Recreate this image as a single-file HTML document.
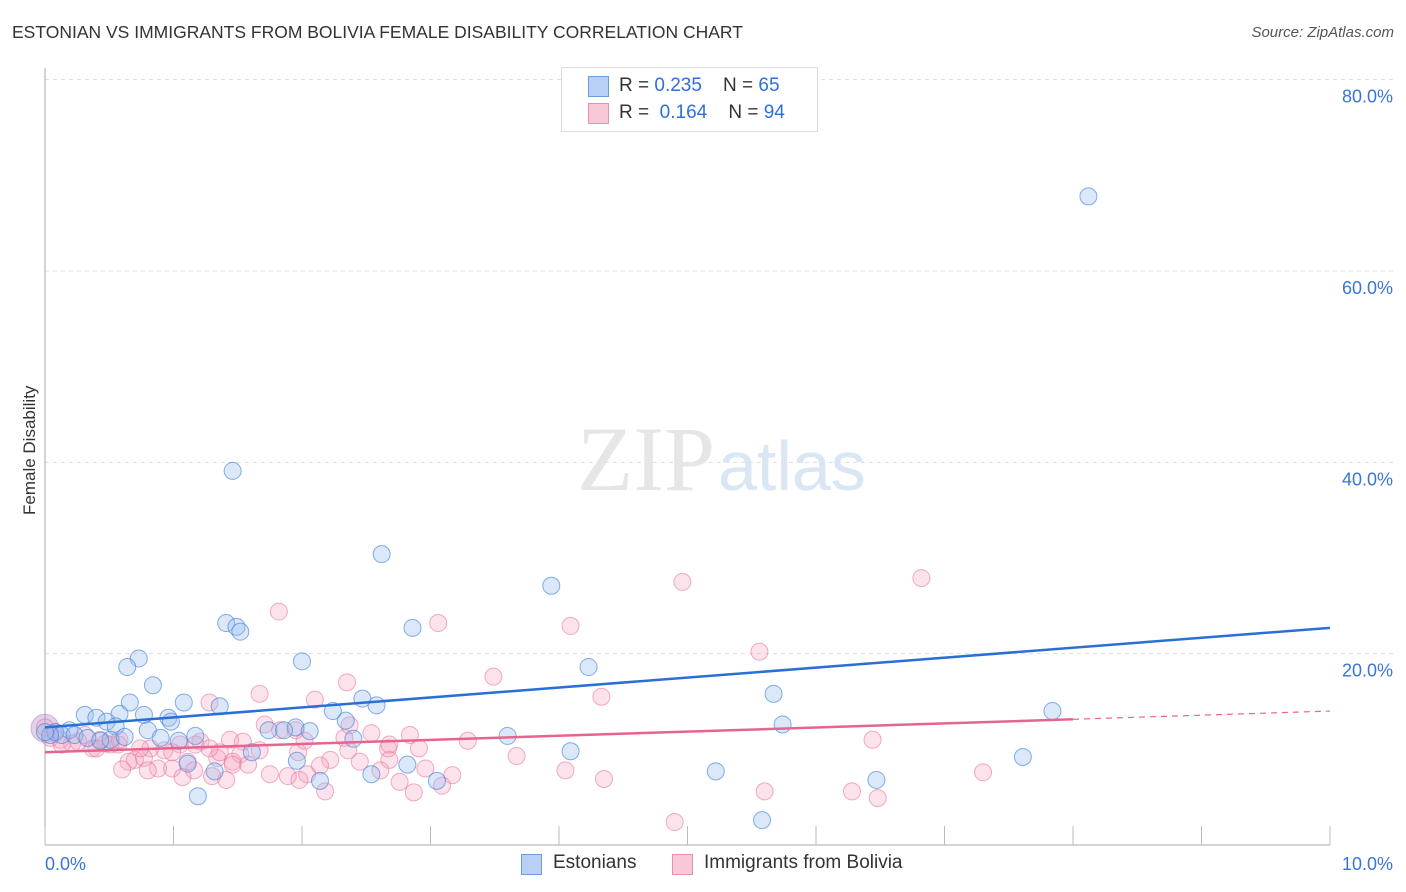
<!DOCTYPE html>
<html><head><meta charset="utf-8">
<style>
body{margin:0;background:#fff;font-family:"Liberation Sans",sans-serif;}
#wrap{position:relative;width:1406px;height:892px;overflow:hidden;}
.t{position:absolute;white-space:nowrap;}
</style></head><body>
<div id="wrap">
<div class="t" style="left:12px;top:22px;font-size:17.5px;color:#333;">ESTONIAN VS IMMIGRANTS FROM BOLIVIA FEMALE DISABILITY CORRELATION CHART</div>
<div class="t" style="right:12px;top:24px;font-size:15px;color:#555;font-style:italic;">Source: ZipAtlas.com</div>
<div class="t" style="left:-30px;top:445px;font-size:17px;color:#333;transform:rotate(-90deg);width:120px;text-align:center;">Female Disability</div>
<svg id="chart" width="1406" height="892" style="position:absolute;left:0;top:0"></svg>
<div style="position:absolute;left:561px;top:67px;width:255px;height:63px;border:1px solid #ddd;background:#fff;font-size:19px;color:#333;">
 <div style="position:absolute;left:26px;top:8px;width:19px;height:19px;background:#b8d0f5;border:1px solid #6c9be0;"></div>
 <div class="t" style="left:57px;top:7px;">R = <span style="color:#2e6fd8">0.235</span>&nbsp;&nbsp;&nbsp; N = <span style="color:#2e6fd8">65</span></div>
 <div style="position:absolute;left:26px;top:35px;width:19px;height:19px;background:#f8c8d6;border:1px solid #e890ac;"></div>
 <div class="t" style="left:57px;top:34px;">R = &nbsp;<span style="color:#2e6fd8">0.164</span>&nbsp;&nbsp;&nbsp; N = <span style="color:#2e6fd8">94</span></div>
</div>
<div style="position:absolute;left:521px;top:852px;font-size:19px;color:#333;">
 <div style="position:absolute;left:0;top:2px;width:19px;height:19px;background:#b8d0f5;border:1px solid #6c9be0;"></div>
 <div class="t" style="left:32px;top:0;">Estonians</div>
 <div style="position:absolute;left:151px;top:2px;width:19px;height:19px;background:#f8c8d6;border:1px solid #e890ac;"></div>
 <div class="t" style="left:183px;top:0;">Immigrants from Bolivia</div>
</div>
</div>
<script>
const yTicks=[20,40,60,80];
const yTickLabels=["20.0%","40.0%","60.0%","80.0%"];
const xTicks=[0,1,2,3,4,5,6,7,8,9,10];
const blueX=[8.12,1.46,2.62,3.94,2.86,1.41,1.49,1.52,0.73,0.64,2.00,4.23,0.84,0.66,1.08,2.47,2.58,5.67,7.84,1.36,0.31,0.40,0.58,0.77,0.96,0.48,0.55,2.34,2.24,5.74,0.19,0.08,0.13,0.80,0.98,1.17,0.90,1.04,0.51,0.43,1.95,1.74,2.06,1.86,3.60,2.40,4.09,1.61,1.96,2.82,1.11,1.32,2.54,5.22,7.61,6.47,2.14,3.05,1.19,5.58,0.04,0.0,0.23,0.33,0.62];
const blueY=[67.8,39.1,30.4,27.1,22.7,23.2,22.8,22.3,19.5,18.6,19.2,18.6,16.7,14.9,14.9,15.3,14.6,15.8,14.0,14.5,13.6,13.3,13.7,13.6,13.3,12.9,12.4,13.0,14.0,12.6,12.0,11.8,11.5,12.0,12.9,11.4,11.2,10.9,11.0,10.9,12.3,12.0,11.9,12.0,11.4,11.1,9.8,9.7,8.8,8.4,8.5,7.7,7.4,7.7,9.2,6.8,6.7,6.7,5.1,2.6,11.5,11.8,11.5,11.2,11.3];
const pinkX=[6.82,4.96,1.82,3.06,4.09,5.56,3.49,2.35,4.33,1.67,1.28,2.10,1.71,1.83,2.54,2.33,2.67,2.91,3.29,6.44,1.54,1.21,1.05,0.82,0.93,0.57,0.37,0.47,0.21,0.12,0.04,0.26,0.70,0.65,0.77,0.88,0.99,1.11,1.16,1.34,1.46,1.52,1.36,1.58,2.22,1.97,2.45,2.68,2.96,3.17,3.67,4.05,4.35,1.41,0.60,1.07,1.75,1.89,2.04,2.18,2.76,2.87,3.09,5.60,6.28,6.48,7.30,4.90,1.46,1.28,1.30,0.43,0.51,0.13,0.31,0.08,0.40,0.74,0.99,0.58,2.36,2.68,2.02,2.14,2.61,1.98,1.67,1.44,1.17,0.80,2.37,2.84,1.95,0.0];
const pinkY=[27.9,27.5,24.4,23.2,22.9,20.2,17.6,17.0,15.5,15.8,14.9,15.2,12.6,12.0,11.7,11.2,10.1,10.1,10.9,11.0,10.8,10.8,10.5,10.1,9.9,10.5,10.1,10.6,10.6,11.0,11.2,10.8,8.9,8.7,9.1,8.0,8.0,8.7,7.8,9.1,8.7,9.5,9.7,8.4,8.9,9.7,8.7,8.9,8.0,7.3,9.3,7.8,6.9,6.8,7.9,7.1,7.4,7.2,7.4,5.6,6.6,5.5,6.2,5.6,5.6,4.9,7.6,2.4,8.4,10.1,7.2,11.0,10.5,10.5,11.5,11.8,10.1,10.1,9.7,11.0,9.9,10.5,10.9,8.3,7.8,6.8,9.9,11.0,10.5,7.8,12.5,11.5,12.0,12.3];
const blueTrend=[12.3,22.7];   // y at x=0 and x=10
const pinkTrend=[9.7,14.0];    // y at x=0 and x=10
const pinkSolidEnd=8.0;

const X0=45,X1=1330,Y0=845,PXY=9.567;
const sx=v=>X0+(X1-X0)*v/10;
const sy=v=>Y0-v*PXY;
const svg=document.getElementById('chart');
const NS='http://www.w3.org/2000/svg';
function mk(tag,attrs){const e=document.createElementNS(NS,tag);for(const k in attrs)e.setAttribute(k,attrs[k]);svg.appendChild(e);return e;}

yTicks.forEach((t,i)=>{
 const g=mk('line',{x1:X0,x2:1395,y1:sy(t),y2:sy(t),stroke:'#ddd','stroke-dasharray':'4,4'});
 
 
 const l=mk('text',{x:1393,y:sy(t)+23,'text-anchor':'end','font-size':'18','fill':'#3a75d6','font-family':'Liberation Sans, sans-serif'});
 l.textContent=yTickLabels[i];
 
 
});
const ax=mk('line',{x1:X0,x2:X0,y1:68,y2:Y0,stroke:'#aaa'});


const bx=mk('line',{x1:X0,x2:X1,y1:Y0,y2:Y0,stroke:'#aaa'});


xTicks.forEach(t=>{
 const tk=mk('line',{x1:sx(t),x2:sx(t),y1:826,y2:Y0,stroke:'#bbb'});
 
 
});
[[0,'0.0%','start',45],[10,'10.0%','end',1393]].forEach(a=>{
 const l=mk('text',{x:a[3],y:870,'text-anchor':a[2],'font-size':'18','fill':'#3a75d6','font-family':'Liberation Sans, sans-serif'});
 l.textContent=a[1];
 
 
});
const w1=mk('text',{x:715,y:490,'text-anchor':'end','font-size':'92','fill':'#e6e6e6','font-family':'Liberation Serif, serif'});
w1.textContent='ZIP';


const w2=mk('text',{x:718,y:490,'font-size':'70','fill':'#dbe6f5','font-family':'Liberation Sans, sans-serif'});
w2.textContent='atlas';



const bb=mk('circle',{cx:sx(0),cy:sy(12.2),r:14,fill:'rgba(160,130,200,0.35)',stroke:'rgba(200,120,170,0.5)'});



pinkX.forEach((x,i)=>{
 const c=mk('circle',{cx:sx(x),cy:sy(pinkY[i]),r:8.5,fill:'rgba(244,160,188,0.3)',stroke:'rgba(232,120,158,0.6)','stroke-width':1});
 
 
});
blueX.forEach((x,i)=>{
 const c=mk('circle',{cx:sx(x),cy:sy(blueY[i]),r:8.5,fill:'rgba(150,190,240,0.35)',stroke:'rgba(70,130,220,0.65)','stroke-width':1});
 
 
});
const pt=v=>pinkTrend[0]+(pinkTrend[1]-pinkTrend[0])*v/10;
const pl=mk('line',{x1:sx(0),y1:sy(pt(0)),x2:sx(pinkSolidEnd),y2:sy(pt(pinkSolidEnd)),stroke:'#e8648e','stroke-width':2.5});


const pd=mk('line',{x1:sx(pinkSolidEnd),y1:sy(pt(pinkSolidEnd)),x2:sx(10),y2:sy(pt(10)),stroke:'#e8648e','stroke-width':1.2,'stroke-dasharray':'6,5'});


const bl=mk('line',{x1:sx(0),y1:sy(blueTrend[0]),x2:sx(10),y2:sy(blueTrend[1]),stroke:'#2a6fd6','stroke-width':2.5});


</script>
</body></html>
